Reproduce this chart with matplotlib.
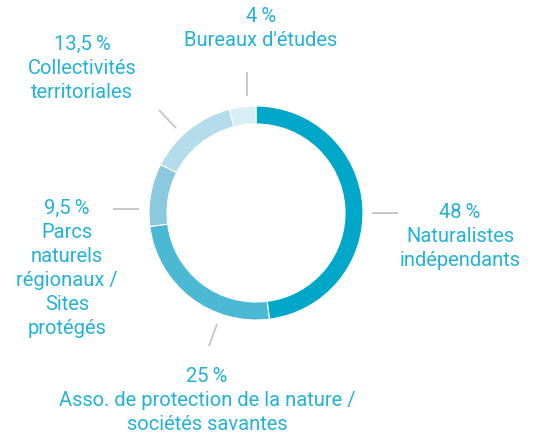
import matplotlib
matplotlib.use("Agg")
import matplotlib.pyplot as plt

# Data
categories = ["Naturalistes\nindépendants",
              "Asso. de protection de la nature /\nsociétés savantes",
              "Parcs\nnaturels\nrégionaux /\nSites\nprotégés",
              "Collectivités\nterritoriales",
              "Bureaux d'études"]
values = [48, 25, 9.5, 13.5, 4]
pct_labels = ["48\u2009%", "25\u2009%", "9,5\u2009%", "13,5\u2009%", "4\u2009%"]
colors = ["#00a7c8", "#4bb8d4", "#8bc9de", "#b4dcea", "#d8edf4"]

W, H = 534, 437
TEXT_COLOR = "#22b2d6"
LINE_COLOR = "#c8c8c8"

# Layout (pixel coordinates, y from top)
center = (256, 213)
radius = 107
ring_width = 18
label_pos = [(460, 212), (207, 376), (67, 208), (82, 44), (261, 17)]
leader_lines = [((372, 213), (398, 213)),
                ((217, 324), (209, 346)),
                ((113, 209), (139, 209)),
                ((159, 110), (176, 128)),
                ((247, 72), (247, 96))]
line_step = 24

plt.rcParams['font.family'] = ['Roboto', 'DejaVu Sans']

fig = plt.figure(figsize=(W / 100, H / 100), dpi=100)
ax = fig.add_axes([0, 0, 1, 1])

def Y(y):
    return H - y

ax.pie(values, colors=colors, startangle=90, counterclock=False,
       radius=radius, center=(center[0], Y(center[1])),
       wedgeprops=dict(width=ring_width, edgecolor='white', linewidth=0.8))

ax.set_xlim(0, W)
ax.set_ylim(0, H)
ax.set_aspect('equal')
ax.axis('off')

for (p0, p1) in leader_lines:
    ax.plot([p0[0], p1[0]], [Y(p0[1]), Y(p1[1])], color=LINE_COLOR, lw=1.4,
            solid_capstyle='butt')

for pct, cat, (x, y) in zip(pct_labels, categories, label_pos):
    lines = [pct] + cat.split("\n")
    for i, t in enumerate(lines):
        ax.text(x, Y(y + i * line_step), t, ha='center', va='center',
                fontsize=14.5, color=TEXT_COLOR)

fig.savefig("out.png", dpi=100)
